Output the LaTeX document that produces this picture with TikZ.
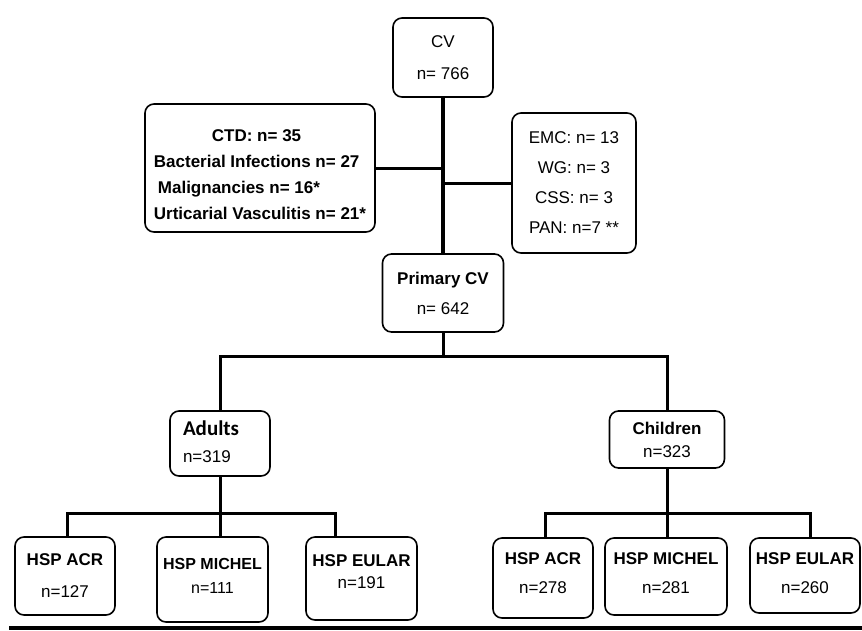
\documentclass[tikz,border=0pt]{standalone}
\usepackage{fontspec}
\setmainfont{Liberation Sans}
\newfontfamily\calibri{Carlito}
\usetikzlibrary{calc}
\newcommand{\raisetext}[1]{\rule[-#1]{0pt}{#1}}            % extra depth on last line
\newcommand{\lowertext}[1]{\rule{0pt}{\dimexpr 12.2pt+#1\relax}} % extra height on first line
\tikzset{
    box/.style={draw, rounded corners=9pt, line width=1.6pt, inner sep=0pt, align=center, font=\fontsize{17}{30}\selectfont},
    link/.style={line width=3pt},
    trunk/.style={line width=4pt}}

\begin{document}
\begin{tikzpicture}[x=1pt,y=-1pt]
\useasboundingbox (0,0) rectangle (862,630);

%top part
\node[box, minimum width=100pt, minimum height=79pt, font=\fontsize{17}{32}\selectfont] (cv) at (443,57.5) {CV\\n= 766};
\node[box, minimum width=230pt, minimum height=128pt, align=left, font=\bfseries\fontsize{17}{26}\selectfont] (excl1) at (260,168)
    {\lowertext{12pt}\hspace*{58pt}CTD: n= 35\\Bacterial Infections n= 27\\\hspace*{4pt}Malignancies n= 16*\\Urticarial Vasculitis n= 21*};
\node[box, minimum width=124pt, minimum height=140pt] (excl2) at (574,183) {EMC: n= 13\\WG: n= 3\\CSS: n= 3\\PAN: n=7 **};
\node[box, minimum width=121pt, minimum height=78pt] (primary) at (443,293) {\textbf{Primary CV}\\n= 642};

%age groups
\node[box, minimum width=100pt, minimum height=65pt, text width=74pt, align=left, font=\fontsize{17}{27}\selectfont] (adults) at (220,443.5)
    {{\calibri\bfseries\fontsize{21}{27}\selectfont Adults}\\n=319\raisetext{4pt}};
\node[box, minimum width=115pt, minimum height=57pt, font=\fontsize{17}{23}\selectfont] (children) at (667,439.5) {\textbf{Children}\\n=323};

%criteria
\node[box, minimum width=100pt, minimum height=78pt, font=\fontsize{17}{32}\selectfont] (acrA) at (65,576) {\textbf{HSP ACR}\\n=127};
\node[box, minimum width=111pt, minimum height=85pt, font=\fontsize{16}{24}\selectfont] (michelA) at (212.5,579.5) {\textbf{HSP MICHEL}\\n=111\raisetext{8pt}};
\node[box, minimum width=111pt, minimum height=83pt, font=\fontsize{17}{22}\selectfont] (eularA) at (361.5,578.5) {\textbf{HSP EULAR}\\n=191\raisetext{14pt}};
\node[box, minimum width=100pt, minimum height=80pt, font=\fontsize{17}{29}\selectfont] (acrC) at (543,578) {\textbf{HSP ACR}\\n=278\raisetext{10pt}};
\node[box, minimum width=122pt, minimum height=77pt, font=\fontsize{17}{29}\selectfont] (michelC) at (666,576.5) {\textbf{HSP MICHEL}\\n=281\raisetext{6pt}};
\node[box, minimum width=110pt, minimum height=75pt, font=\fontsize{17}{29}\selectfont] (eularC) at (805,575.5) {\textbf{HSP EULAR}\\n=260\raisetext{4pt}};

\coordinate (split) at (443,356);
\coordinate (busA) at (220,513);
\coordinate (busC) at (667,513);

%draw lines
\draw[trunk] (cv.south) -- (cv.south |- primary.north);
\draw[link] (excl1.east) -- (excl1.east -| cv.south);
\draw[link] (excl2.west) -- (excl2.west -| cv.south);
\draw[link] (primary.south) -- (split);
\draw[link] (adults.north) -- (adults.north |- split) -- (children.north |- split) -- (children.north);

\draw[link] (adults.south) -- (adults.south |- michelA.north);
\draw[link] ([xshift=2pt]acrA.north) -- ([xshift=2pt]acrA.north |- busA) -- ([xshift=-26.5pt]eularA.north |- busA) -- ([xshift=-26.5pt]eularA.north);
\draw[link] (children.south) -- (children.south |- michelC.north);
\draw[link] ([xshift=2pt]acrC.north) -- ([xshift=2pt]acrC.north |- busC) -- ([xshift=5pt]eularC.north |- busC) -- ([xshift=5pt]eularC.north);

\fill (9,626) rectangle (862,630);
\end{tikzpicture}
\end{document}
